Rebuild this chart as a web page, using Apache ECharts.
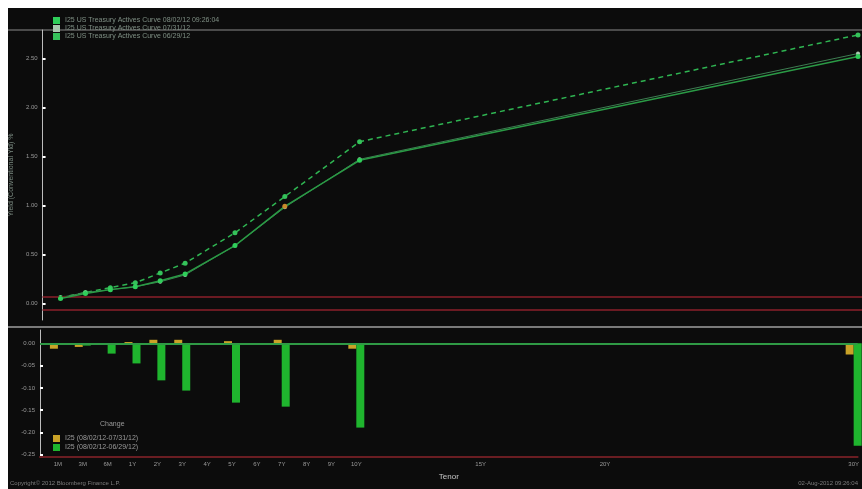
<!DOCTYPE html>
<html><head><meta charset="utf-8">
<script src="https://cdn.jsdelivr.net/npm/echarts@6/dist/echarts.min.js"></script>
<style>
html,body{margin:0;padding:0;background:#fff;width:862px;height:489px;overflow:hidden}
#bg{position:absolute;left:8px;top:8px;width:854px;height:481px;background:#0c0c0c}
#c{position:absolute;left:0;top:0;width:862px;height:489px}
</style></head><body>
<div id="bg"></div><div id="c"></div>
<script>
// Axis tenors and their position on the tenor scale
const axisTenors = ['1M','3M','6M','1Y','2Y','3Y','4Y','5Y','6Y','7Y','8Y','9Y','10Y','15Y','20Y','30Y'];
const axisPos    = [0,1,2,3,4,5,6,7,8,9,10,11,12,17,22,32];
// Active tenors on the curve
const curveTenors = ['1M','3M','6M','1Y','2Y','3Y','5Y','7Y','10Y','30Y'];
// Yields (%)
const yield080212 = [0.05, 0.10, 0.14, 0.17, 0.23, 0.30, 0.59, 0.99, 1.46, 2.52];
const yield073112 = [0.06, 0.11, 0.14, 0.17, 0.22, 0.29, 0.59, 0.98, 1.47, 2.55];
const yield062912 = [0.06, 0.11, 0.16, 0.21, 0.31, 0.41, 0.72, 1.09, 1.65, 2.74];
// Changes (%)
const chgVs0731 = [-0.012, -0.008, 0.000, 0.003, 0.008, 0.008, 0.005, 0.008, -0.012, -0.025];
const chgVs0629 = [0.000, -0.005, -0.023, -0.045, -0.083, -0.106, -0.133, -0.142, -0.189, -0.230];
const topTicks = [0, 0.5, 1.0, 1.5, 2.0, 2.5];
const chgTicks = [0, -0.05, -0.10, -0.15, -0.20, -0.25];

const names = ['I25 US Treasury Actives Curve 08/02/12 09:26:04','I25 US Treasury Actives Curve 07/31/12','I25 US Treasury Actives Curve 06/29/12'];
const barNames = ['I25 (08/02/12-07/31/12)','I25 (08/02/12-06/29/12)'];

const posOf = t => axisPos[axisTenors.indexOf(t)];
const pts = arr => curveTenors.map((t,i)=>[posOf(t), arr[i]]);
const labelFor = v => { const i = axisPos.indexOf(Math.round(v)); return i>=0 && Math.abs(v-axisPos[i])<1e-6 ? axisTenors[i] : ''; };

const chart = echarts.init(document.getElementById('c'));
const txt = '#9a9a9a';
const xBase = {type:'value', min:-0.72, max:32.16, splitLine:{show:false}};
chart.setOption({
  backgroundColor:'transparent',
  animation:false,
  textStyle:{fontFamily:'Liberation Sans, Arial, sans-serif'},
  legend:[
    {data:names, orient:'vertical', left:48, top:12, itemWidth:7, itemHeight:7, itemGap:1, icon:'rect',
     textStyle:{color:'#7f8f84', fontSize:7}, inactiveColor:'#444'},
    {data:barNames, orient:'vertical', left:48, top:430, itemWidth:7, itemHeight:7, itemGap:2, icon:'rect',
     textStyle:{color:'#9a9a9a', fontSize:7}}
  ],
  grid:[
    {left:40, right:0, top:30, height:290},
    {left:40, right:0, top:330, height:127}
  ],
  xAxis:[
    Object.assign({gridIndex:0, axisLine:{show:false, onZero:false}, axisTick:{show:false}, axisLabel:{show:false}}, xBase),
    Object.assign({gridIndex:1, name:'Tenor', nameLocation:'middle', nameGap:16,
      nameTextStyle:{color:'#c8c8c8', fontSize:8},
      axisLine:{onZero:false, lineStyle:{color:'#6a1d22', width:2}}, axisTick:{show:false},
      axisLabel:{customValues:axisPos, formatter:labelFor, color:txt, fontSize:6, margin:4}}, xBase)
  ],
  yAxis:[
    {type:'value', gridIndex:0, min:-0.17, max:2.79, name:'Yield (Conventional Yld) %', nameLocation:'middle', nameGap:27,
     nameTextStyle:{color:'#7a8a80', fontSize:7},
     axisLine:{show:true, onZero:false, lineStyle:{color:'#bdbdbd', width:1}},
     axisTick:{show:true, inside:true, length:3, customValues:topTicks, lineStyle:{color:'#fff', width:2}},
     axisLabel:{customValues:topTicks, formatter:v=>v.toFixed(2), color:txt, fontSize:6, margin:5},
     splitLine:{show:false}},
    {type:'value', gridIndex:1, min:-0.255, max:0.03,
     axisLine:{show:true, onZero:false, lineStyle:{color:'#bdbdbd', width:1}},
     axisTick:{show:true, inside:true, length:3, customValues:chgTicks, lineStyle:{color:'#fff', width:2}},
     axisLabel:{customValues:chgTicks, formatter:v=>v.toFixed(2), color:txt, fontSize:6, margin:5},
     splitLine:{show:false}}
  ],
  graphic:[
    {type:'line', shape:{x1:8,y1:30,x2:862,y2:30}, style:{stroke:'#8a8a8a', lineWidth:1}, silent:true},
    {type:'line', shape:{x1:8,y1:327,x2:862,y2:327}, style:{stroke:'#7a7a7a', lineWidth:2}, silent:true},
    {type:'text', left:100, top:421, style:{text:'Change', fill:'#9a9a9a', fontSize:7}},
    {type:'text', left:10, top:480, style:{text:'Copyright© 2012 Bloomberg Finance L.P.', fill:'#7d7d7d', fontSize:6}},
    {type:'text', right:4, top:480, style:{text:'02-Aug-2012 09:26:04', fill:'#7d7d7d', fontSize:6}}
  ],
  series:[
    {name:names[2], type:'line', xAxisIndex:0, yAxisIndex:0, data:pts(yield062912),
     lineStyle:{color:'#2fb552', width:1.5, type:[5,4]}, itemStyle:{color:'#35c25a'},
     symbol:'circle', symbolSize:5, z:3,
     markLine:{silent:true, symbol:'none', label:{show:false}, lineStyle:{color:'#6b1a22', width:2, type:'solid'},
       data:[{yAxis:0.07},{yAxis:-0.07}]}},
    {name:names[1], type:'line', xAxisIndex:0, yAxisIndex:0, data:pts(yield073112),
     lineStyle:{color:'#3e7e52', width:1}, itemStyle:{color:'#a9c9b0'},
     symbol:'circle', symbolSize:4, z:4},
    {name:names[0], type:'line', xAxisIndex:0, yAxisIndex:0,
     data:pts(yield080212).map((p,i)=> curveTenors[i]==='7Y' ? {value:p, itemStyle:{color:'#c98a2a'}} : p),
     lineStyle:{color:'#2a9a45', width:1.5}, itemStyle:{color:'#2fcf5a'},
     symbol:'circle', symbolSize:5, z:5},
    {name:barNames[0], type:'bar', xAxisIndex:1, yAxisIndex:1, data:pts(chgVs0731),
     itemStyle:{color:'#c9a227'}, barWidth:8, barGap:'0%',
     markLine:{silent:true, symbol:'none', label:{show:false}, lineStyle:{color:'#2f9a45', width:2, type:'solid'},
       data:[{yAxis:0}]}},
    {name:barNames[1], type:'bar', xAxisIndex:1, yAxisIndex:1, data:pts(chgVs0629),
     itemStyle:{color:'#1fb52e'}, barWidth:8, barGap:'0%'}
  ]
});
</script></body></html>
